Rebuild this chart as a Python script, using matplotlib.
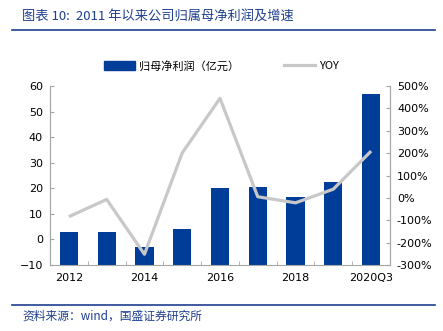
import matplotlib
matplotlib.use("Agg")
import matplotlib.pyplot as plt
from matplotlib.ticker import FuncFormatter, FixedLocator, NullFormatter
from matplotlib.lines import Line2D
from matplotlib.patches import Patch

plt.rcParams['font.family'] = ['DejaVu Sans', 'Noto Sans CJK SC']

# data
years = ['2012', '2013', '2014', '2015', '2016', '2017', '2018', '2019', '2020Q3']
profit = [3.0, 2.8, -2.9, 4.1, 20.0, 20.6, 16.7, 22.5, 57.0]
yoy = [-84, -7, -252, 201, 445, 5, -22, 39, 209]
shown_labels = ['2012', '', '2014', '', '2016', '', '2018', '', '2020Q3']

blue = '#003d99'
grey = '#c8c8c8'
title_blue = '#1f3f8f'
axis_grey = '#a6a6a6'
cjk = ['Noto Sans CJK SC', 'DejaVu Sans']

fig = plt.figure(figsize=(4.43, 3.31), dpi=100)
ax = fig.add_axes([50/443, 1-265/331, 340/443, 179/331])
ax2 = ax.twinx()

x = list(range(len(years)))
base = -10
ax.bar(x, [v - base for v in profit], bottom=base, width=0.48, color=blue, zorder=2)
ax2.plot(x, yoy, color=grey, linewidth=2.3, solid_capstyle='butt', zorder=3)

ax.set_xlim(-0.5, len(years) - 0.5)
ax.set_ylim(-10, 60)
ax.set_yticks(range(-10, 61, 10))
ax2.set_ylim(-300, 500)
ax2.set_yticks(range(-300, 501, 100))
ax2.yaxis.set_major_formatter(FuncFormatter(lambda v, p: f'{int(v)}%'))

ax.set_xticks(x)
ax.set_xticklabels(shown_labels)
ax.xaxis.set_minor_locator(FixedLocator([i + 0.5 for i in range(-1, len(years))]))
ax.tick_params(axis='x', which='major', length=0, labelsize=8, pad=6)
ax.tick_params(axis='x', which='minor', direction='in', length=3, color=axis_grey)
ax.tick_params(axis='y', direction='in', length=3, color=axis_grey, labelsize=8, pad=5)
ax2.tick_params(axis='y', direction='in', length=3, color=axis_grey, labelsize=8, pad=5)

for a in (ax, ax2):
    a.spines['top'].set_visible(False)
    for s in ('left', 'right', 'bottom'):
        a.spines[s].set_color(axis_grey)
ax2.spines['bottom'].set_visible(False)

# legend
handles = [Patch(color=blue), Line2D([0], [0], color=grey, linewidth=2.3)]
fig.legend(handles, ['归母净利润（亿元）', 'YOY'], loc='center', bbox_to_anchor=(0.5, 1-66/331),
           ncol=2, frameon=False, prop={'family': cjk, 'size': 8},
           handlelength=2.8, handleheight=0.9, columnspacing=4.0, handletextpad=0.4)

# title and source
fig.text(22/443, 1-16/331, '图表 10:  2011 年以来公司归属母净利润及增速', color=title_blue,
         fontsize=9.5, style='italic', family=cjk, va='center', ha='left')
fig.add_artist(Line2D([12/443, 435/443], [1-30/331, 1-30/331], color=title_blue, linewidth=1.2))
fig.add_artist(Line2D([12/443, 435/443], [1-305/331, 1-305/331], color=title_blue, linewidth=1.2))
fig.text(22/443, 1-316/331, '资料来源：wind，国盛证券研究所', color=title_blue,
         fontsize=8.5, style='italic', family=cjk, va='center', ha='left')

fig.savefig('out.png', dpi=100)
